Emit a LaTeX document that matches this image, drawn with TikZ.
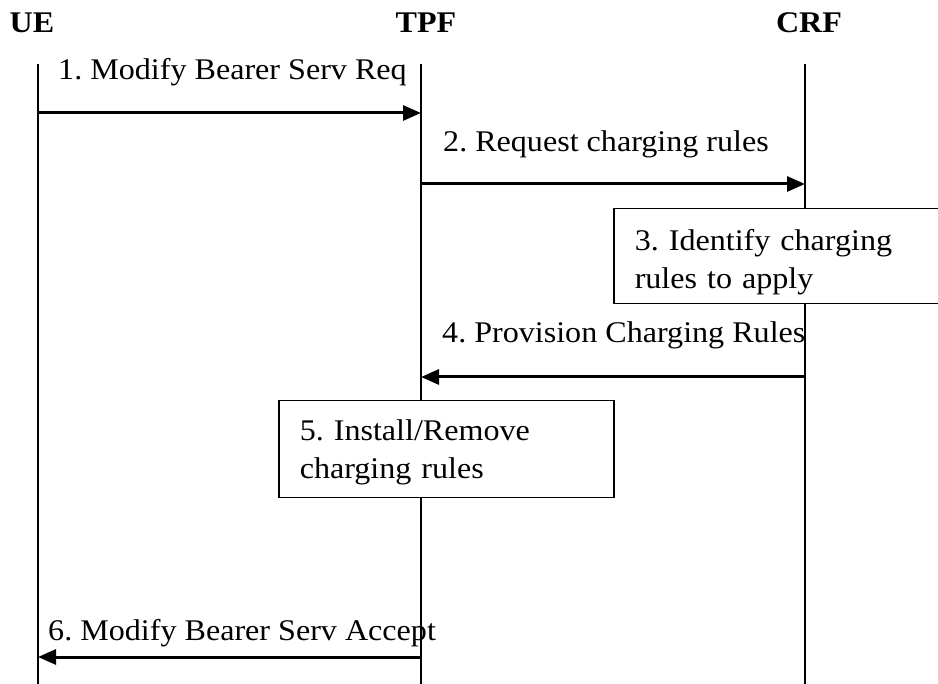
\documentclass[tikz,border=0pt]{standalone}
\usepackage{fontspec}
\setmainfont[FakeStretch=1.07]{Liberation Serif}
\usetikzlibrary{arrows.meta}
\frenchspacing

\begin{document}
\begin{tikzpicture}[x=1pt,y=-1pt,
    actor/.style={font=\fontsize{30}{37}\selectfont\bfseries, anchor=base, inner sep=0pt},
    msg/.style={font=\fontsize{30}{37}\selectfont, anchor=base west, inner sep=0pt},
    life/.style={line width=1.5pt},
    call/.style={line width=3pt, -{Triangle[length=18pt,width=15pt]}},
    action/.style={draw, line width=1.5pt, fill=white, font=\fontsize{30}{37.5}\selectfont,
        align=left, anchor=north west, inner xsep=21pt, inner ysep=0pt}]
    \useasboundingbox (0,0) rectangle (938,684);

    % Entities
    \node[actor] (ue) at (32,33) {UE};
    \node[actor] (tpf) at (426,33) {TPF};
    \node[actor] (crf) at (809,33) {CRF};

    % Lifelines
    \coordinate (ue top) at (38,64);
    \coordinate (ue bot) at (38,684);
    \coordinate (tpf top) at (421,64);
    \coordinate (tpf bot) at (421,684);
    \coordinate (crf top) at (805,64);
    \coordinate (crf bot) at (805,684);
    \draw[life] (ue top) -- (ue bot);
    \draw[life] (tpf top) -- (tpf bot);
    \draw[life] (crf top) -- (crf bot);

    % 1
    \coordinate (ue1) at (38,113);
    \coordinate (tpf1) at (421,113);
    \node[msg] (m1) at (58,80) {1. Modify Bearer Serv Req};
    \draw[call] (ue1) -- (tpf1);

    % 2
    \coordinate (tpf2) at (421,184);
    \coordinate (crf2) at (805,184);
    \node[msg] (m2) at (443,152) {2. Request charging rules};
    \draw[call] (tpf2) -- (crf2);

    % 3
    \node[action, text width=310pt, minimum height=95pt] (ident) at (613,208)
        {\rule{0pt}{33pt}3. Identify charging\\rules to apply};

    % 4
    \coordinate (crf4) at (805,377);
    \coordinate (tpf4) at (421,377);
    \node[msg] (m4) at (442,343) {4. Provision Charging Rules};
    \draw[call] (crf4) -- (tpf4);

    % 5
    \node[action, text width=293pt, minimum height=97pt] (inst) at (278,400)
        {\rule{0pt}{27pt}5. Install/Remove\\charging rules};

    % 6
    \coordinate (tpf6) at (421,657);
    \coordinate (ue6) at (38,657);
    \node[msg] (m6) at (48,640) {6. Modify Bearer Serv Accept};
    \draw[call] (tpf6) -- (ue6);
\end{tikzpicture}
\end{document}
